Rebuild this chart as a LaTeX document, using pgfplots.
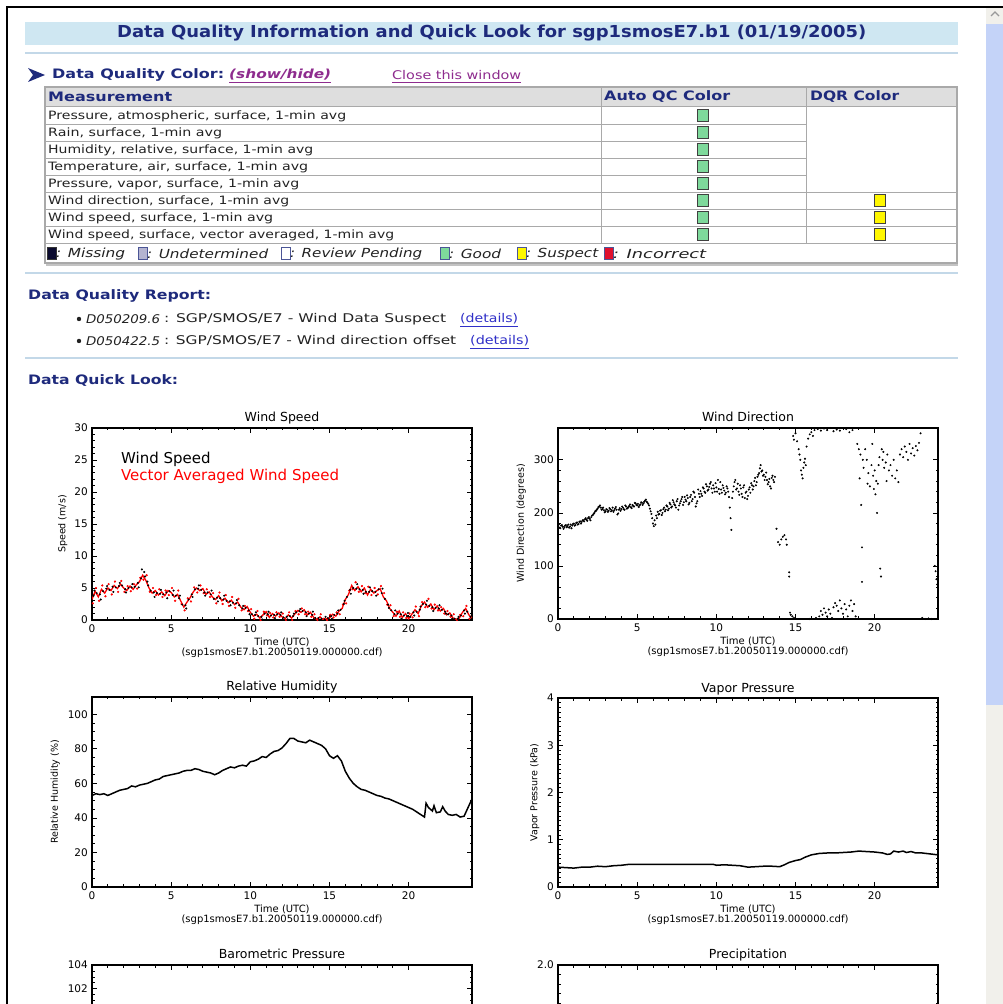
\documentclass[border=0pt]{standalone}
\usepackage{pgfplots}
\pgfplotsset{compat=1.18}
\usepackage{graphicx}
\usepackage{fontspec}
\setmainfont{DejaVu Sans}
\newfontfamily\plotfont{DejaVu Sans}
\definecolor{navy}{HTML}{1E2A7C}
\definecolor{titlebg}{HTML}{CFE7F2}
\definecolor{sepline}{HTML}{C3D8E8}
\definecolor{hdrbg}{HTML}{DEDEDE}
\definecolor{gridc}{HTML}{A9A9A9}
\definecolor{linkpurple}{HTML}{8E2C8E}
\definecolor{linkblue}{HTML}{3030C8}
\definecolor{goodgreen}{HTML}{7ED99B}
\definecolor{suspyellow}{HTML}{FFF700}
\definecolor{undet}{HTML}{B4B4D0}
\definecolor{incred}{HTML}{E0102E}
\definecolor{missblack}{HTML}{0A0A2E}
\definecolor{scrollblue}{HTML}{C4D3F8}
\definecolor{scrollgrey}{HTML}{F1F0EB}
\definecolor{rowtext}{HTML}{222222}
\newcommand{\fs}[1]{\fontsize{#1}{#1}\selectfont}
\newcommand{\txt}[5]{\node[anchor=west,inner sep=0pt,text=#4] at (#1,#2) {\resizebox{#3pt}{\height}{#5}};}
\pgfplotsset{
 idl/.style={
  scale only axis, width=380pt, height=190pt, anchor=south west,
  xmin=0, xmax=24, xtick={0,5,10,15,20}, minor x tick num=4,
  tick align=inside, major tick length=5pt, minor tick length=2.5pt,
  axis line style={line width=1.1pt, black},
  every tick/.append style={black, line width=0.7pt},
  tick label style={font=\plotfont\fs{10.5}},
  /pgf/number format/assume math mode=true,
  xticklabel style={inner sep=0pt, yshift=-5pt},
  yticklabel style={inner sep=0pt, xshift=-4pt},
  title style={font=\plotfont\fs{12.5}, inner sep=0pt, anchor=base, at={(axis description cs:0.5,1)}, yshift=0pt},
  xlabel={Time (UTC)\\(sgp1smosE7.b1.20050119.000000.cdf)},
  xlabel style={font=\plotfont\fs{10}, align=center, inner sep=0pt, at={(axis description cs:0.5,0)}, anchor=north, yshift=-18pt},
  ylabel style={font=\plotfont\fs{9.5}, inner sep=0pt, anchor=center},
 }
}
\begin{document}
\begin{tikzpicture}[x=1pt,y=1pt]
\useasboundingbox (0,0) rectangle (1003,1004);
\clip (0,0) rectangle (1003,1004);
\fill[white] (0,0) rectangle (1003,1004);
\begin{scope}[shift={(0pt,1004pt)},y=-1pt]
% borders and scrollbar
\fill[scrollgrey] (986,8) rectangle (1003,1004);
\fill[scrollblue] (986,24) rectangle (1003,705);
\draw[black!40, line width=1.2pt] (991,16) -- (995,12) -- (999,16);
\draw[black, line width=2pt] (6,7) -- (1003,7);
\draw[black, line width=2pt] (7,7) -- (7,1004);
% title bar
\fill[titlebg] (25,22) rectangle (958,45);
\txt{117}{33.5}{749}{navy}{\fs{16.5}\bfseries Data Quality Information and Quick Look for sgp1smosE7.b1 (01/19/2005)}
\draw[sepline, line width=1.5pt] (25,53) -- (958,53);
% data quality color
\fill[navy] (28,68) -- (45,75) -- (28,82) -- (33,75) -- cycle;
\txt{52}{75}{172}{navy}{\fs{13}\bfseries Data Quality Color:}
\txt{229}{75}{102}{linkpurple}{\fs{12.5}\bfseries\itshape (show/hide)}
\draw[linkpurple, line width=0.8pt] (229,82) -- (331,82);
\txt{392}{75}{129}{linkpurple}{\fs{12}Close this window}
\draw[linkpurple, line width=0.8pt] (392,82) -- (521,82);
% table
\fill[hdrbg] (45,87) rectangle (957,107);
\draw[gridc, line width=1.2pt] (45,87) rectangle (957,263);
\draw[gridc, line width=1pt] (45,107) -- (957,107);
\foreach \yy in {125,142,159,176,193} {\draw[gridc, line width=1pt] (45,\yy) -- (806,\yy);}
\foreach \yy in {210,227,244} {\draw[gridc, line width=1pt] (45,\yy) -- (957,\yy);}
\draw[gridc, line width=1pt] (806,193) -- (957,193);
\draw[gridc, line width=1pt] (601,87) -- (601,244);
\draw[gridc, line width=1pt] (806,87) -- (806,244);
\draw[gridc!70, line width=1.5pt] (46,265) -- (958,265);
\txt{48}{97}{124}{navy}{\fs{13}\bfseries Measurement}
\txt{604}{97}{126}{navy}{\fs{13}\bfseries Auto QC Color}
\txt{810}{97}{89}{navy}{\fs{13}\bfseries DQR Color}
\txt{48}{116.5}{298}{rowtext}{\fs{11.5}Pressure, atmospheric, surface, 1-min avg}
\txt{48}{133.5}{174}{rowtext}{\fs{11.5}Rain, surface, 1-min avg}
\txt{48}{150.5}{265}{rowtext}{\fs{11.5}Humidity, relative, surface, 1-min avg}
\txt{48}{167.5}{260}{rowtext}{\fs{11.5}Temperature, air, surface, 1-min avg}
\txt{48}{184.5}{251}{rowtext}{\fs{11.5}Pressure, vapor, surface, 1-min avg}
\txt{48}{201.5}{241}{rowtext}{\fs{11.5}Wind direction, surface, 1-min avg}
\txt{48}{218.5}{225}{rowtext}{\fs{11.5}Wind speed, surface, 1-min avg}
\txt{48}{235.5}{346}{rowtext}{\fs{11.5}Wind speed, surface, vector averaged, 1-min avg}
\foreach \yy in {110,127,144,161,178,195,212,229} {\draw[black!75, fill=goodgreen, line width=1pt] (697.5,\yy) rectangle (708.5,\yy+12);}
\foreach \yy in {195,212,229} {\draw[black!75, fill=suspyellow, line width=1pt] (874.5,\yy) rectangle (885.5,\yy+12);}
% legend row
\draw[black!80, fill=missblack, line width=1pt] (47.5,248) rectangle (56,260);
\txt{56}{254}{69}{rowtext}{\fs{12.5}\itshape : Missing}
\draw[navy!80, fill=undet, line width=1pt] (138.5,248) rectangle (147,260);
\txt{147}{254}{121}{rowtext}{\fs{12.5}\itshape : Undetermined}
\draw[navy!80, fill=white, line width=1pt] (281.5,248) rectangle (290,260);
\txt{290}{254}{132}{rowtext}{\fs{12.5}\itshape : Review Pending}
\draw[navy!80, fill=goodgreen, line width=1pt] (440.5,248) rectangle (449,260);
\txt{449}{254}{52}{rowtext}{\fs{12.5}\itshape : Good}
\draw[navy!80, fill=suspyellow, line width=1pt] (517.5,248) rectangle (526,260);
\txt{526}{254}{72}{rowtext}{\fs{12.5}\itshape : Suspect}
\draw[navy!80, fill=incred, line width=1pt] (604.5,248) rectangle (613,260);
\txt{613}{254}{93}{rowtext}{\fs{12.5}\itshape : Incorrect}
\draw[sepline, line width=1.5pt] (25,273) -- (958,273);
% report
\txt{28}{296}{183}{navy}{\fs{13}\bfseries Data Quality Report:}
\fill[rowtext] (79,319) circle (2.2);
\fill[rowtext] (79,341) circle (2.2);
\txt{86}{319}{74}{rowtext}{\fs{12}\itshape D050209.6}
\txt{164}{319}{282}{rowtext}{\fs{12}: SGP/SMOS/E7 - Wind Data Suspect}
\txt{460}{319}{58}{linkblue}{\fs{12}(details)}
\draw[linkblue, line width=0.8pt] (460,326) -- (518,326);
\txt{86}{341}{74}{rowtext}{\fs{12}\itshape D050422.5}
\txt{164}{341}{292}{rowtext}{\fs{12}: SGP/SMOS/E7 - Wind direction offset}
\txt{470}{341}{59}{linkblue}{\fs{12}(details)}
\draw[linkblue, line width=0.8pt] (470,348) -- (529,348);
\draw[sepline, line width=1.5pt] (25,358) -- (958,358);
\txt{28}{381}{150}{navy}{\fs{13}\bfseries Data Quick Look:}
\end{scope}

% ---------------- Wind Speed
\begin{axis}[idl, at={(92pt,384pt)}, height=192pt, ymin=0, ymax=30, ytick={0,5,...,30}, minor y tick num=4,
  title={Wind Speed}, ylabel={Speed (m/s)}, ylabel style={at={(axis description cs:-0.077,0.5)}}]
\addplot[red, line width=1.3pt] coordinates {
(0.0,3.2)(0.2,4.5)(0.4,3.6)(0.6,4.8)(0.8,4.2)(1.0,5.0)(1.2,4.6)(1.4,5.4)(1.6,4.9)(1.8,5.6)
(2.0,5.0)(2.2,4.6)(2.4,5.3)(2.6,4.8)(2.8,5.5)(3.0,6.0)(3.2,7.0)(3.4,6.2)(3.6,5.0)(3.8,4.2)
(4.0,4.6)(4.2,3.9)(4.4,4.4)(4.6,3.8)(4.8,4.6)(5.0,4.3)(5.2,3.6)(5.4,4.0)(5.6,3.0)(5.8,2.0)
(6.0,2.8)(6.2,3.5)(6.4,4.4)(6.6,5.0)(6.8,4.6)(7.0,4.9)(7.2,4.0)(7.4,4.4)(7.6,3.6)(7.8,3.2)
(8.0,3.8)(8.2,3.0)(8.4,3.4)(8.6,2.7)(8.8,3.1)(9.0,2.4)(9.2,2.8)(9.4,2.0)(9.6,1.6)(9.8,2.1)
(10.0,1.2)(10.2,0.6)(10.4,0.9)(10.6,0.3)(10.8,0.8)(11.0,1.3)(11.2,0.4)(11.4,1.0)(11.6,0.6)(11.8,1.1)
(12.0,0.5)(12.2,0.2)(12.4,0.8)(12.6,0.3)(12.8,0.9)(13.0,1.5)(13.2,1.2)(13.4,1.6)(13.6,0.8)(13.8,1.2)
(14.0,0.4)(14.2,0.1)(14.4,0.5)(14.6,0.0)(14.8,0.2)(15.0,0.3)(15.2,0.9)(15.4,0.6)(15.6,1.4)(15.8,1.8)
(16.0,3.2)(16.2,4.0)(16.4,5.4)(16.6,4.6)(16.8,5.2)(17.0,4.4)(17.2,5.0)(17.4,3.9)(17.6,4.8)(17.8,4.2)
(18.0,4.6)(18.2,4.9)(18.4,3.6)(18.6,3.0)(18.8,1.8)(19.0,1.2)(19.2,0.6)(19.4,1.4)(19.6,0.4)(19.8,1.0)
(20.0,0.2)(20.2,0.9)(20.4,1.6)(20.6,1.0)(20.8,2.2)(21.0,2.8)(21.2,2.0)(21.4,2.5)(21.6,1.6)(21.8,2.2)
(22.0,1.4)(22.2,1.8)(22.4,0.8)(22.6,1.1)(22.8,0.3)(23.0,0.1)(23.2,0.3)(23.4,1.2)(23.6,1.8)(23.8,0.8)(24.0,0.3)};
\addplot[red, only marks, mark=*, mark size=0.9pt] coordinates {
(0.05,2.6)(0.25,5.0)(0.45,3.0)(0.65,5.4)(0.85,3.7)(1.05,5.6)(1.25,4.0)(1.45,6.0)(1.65,4.4)(1.85,6.1)
(2.05,4.4)(2.25,5.3)(2.45,4.5)(2.65,5.6)(2.85,4.9)(3.05,6.6)(3.25,6.3)(3.45,7.0)(3.65,4.4)(3.85,5.0)
(4.05,3.9)(4.25,4.8)(4.45,3.6)(4.65,4.6)(4.85,3.9)(5.05,5.0)(5.25,3.0)(5.45,4.6)(5.65,2.5)(5.85,1.5)
(6.05,3.4)(6.25,2.9)(6.45,5.1)(6.65,4.3)(6.85,5.4)(7.05,4.2)(7.25,4.8)(7.45,3.6)(7.65,4.2)(7.85,2.6)
(8.05,4.3)(8.25,2.5)(8.45,3.9)(8.65,2.2)(8.85,3.6)(9.05,1.9)(9.25,3.3)(9.45,1.5)(9.65,2.2)(9.85,1.4)
(10.05,1.7)(10.25,0.2)(10.45,1.4)(10.65,0.0)(10.85,1.3)(11.05,0.7)(11.25,1.1)(11.45,0.4)(11.65,1.2)(11.85,0.5)
(12.05,1.0)(12.25,0.0)(12.45,1.2)(12.65,0.0)(12.85,1.4)(13.05,0.9)(13.25,1.8)(13.45,0.9)(13.65,1.3)(13.85,0.5)
(14.05,0.9)(14.25,0.0)(14.45,0.9)(14.65,0.2)(14.85,0.0)(15.05,0.8)(15.25,0.4)(15.45,1.2)(15.65,0.9)(15.85,2.4)
(16.05,2.6)(16.25,4.6)(16.45,4.8)(16.65,5.9)(16.85,4.4)(17.05,5.3)(17.25,4.2)(17.45,5.2)(17.65,3.9)(17.85,5.0)
(18.05,4.0)(18.25,5.3)(18.45,4.2)(18.65,2.4)(18.85,2.3)(19.05,0.6)(19.25,1.3)(19.45,0.5)(19.65,1.2)(19.85,0.3)
(20.05,1.0)(20.25,0.4)(20.45,2.1)(20.65,0.6)(20.85,2.8)(21.05,2.0)(21.25,3.3)(21.45,1.8)(21.65,2.4)(21.85,1.5)
(22.05,2.0)(22.25,1.0)(22.45,1.4)(22.65,0.5)(22.85,0.9)(23.05,0.0)(23.25,0.8)(23.45,0.6)(23.65,2.2)(23.85,0.2)};
\addplot[black, only marks, mark=*, mark size=0.8pt] coordinates {
(0.1,3.8)(0.3,4.2)(0.5,4.0)(0.7,4.5)(0.9,4.9)(1.1,4.7)(1.3,5.2)(1.5,5.1)(1.7,5.3)(1.9,5.4)
(2.1,4.8)(2.3,5.0)(2.5,5.1)(2.7,5.2)(2.9,5.8)(3.1,6.5)(3.3,7.5)(3.5,6.0)(3.7,4.6)(3.9,4.3)
(4.1,4.2)(4.3,4.1)(4.5,4.0)(4.7,4.3)(4.9,4.5)(5.1,3.9)(5.3,3.8)(5.5,3.4)(5.7,2.4)(5.9,2.3)
(6.1,3.2)(6.3,4.0)(6.5,4.8)(6.7,4.9)(6.9,4.7)(7.1,4.3)(7.3,4.3)(7.5,4.0)(7.7,3.3)(7.9,3.5)
(8.1,3.4)(8.3,3.2)(8.5,3.0)(8.7,2.9)(8.9,2.7)(9.1,2.6)(9.3,2.3)(9.5,1.8)(9.7,1.9)(9.9,1.5)
(10.1,0.9)(10.3,0.8)(10.5,0.6)(10.7,0.5)(10.9,1.0)(11.1,0.9)(11.3,0.7)(11.5,0.8)(11.7,0.9)(11.9,0.8)
(12.1,0.4)(12.3,0.5)(12.5,0.6)(12.7,0.6)(12.9,1.2)(13.1,1.4)(13.3,1.4)(13.5,1.2)(13.7,1.0)(13.9,0.8)
(14.1,0.3)(14.3,0.3)(14.5,0.2)(14.7,0.1)(14.9,0.3)(15.1,0.6)(15.3,0.8)(15.5,1.0)(15.7,1.6)(15.9,2.5)
(16.1,3.6)(16.3,4.7)(16.5,5.0)(16.7,4.9)(16.9,4.8)(17.1,4.7)(17.3,4.4)(17.5,4.4)(17.7,4.5)(17.9,4.4)
(18.1,4.8)(18.3,4.2)(18.5,3.3)(18.7,2.4)(18.9,1.5)(19.1,0.9)(19.3,1.0)(19.5,0.9)(19.7,0.7)(19.9,0.6)
(20.1,0.5)(20.3,1.2)(20.5,1.3)(20.7,1.6)(20.9,2.5)(21.1,2.4)(21.3,2.2)(21.5,2.0)(21.7,1.9)(21.9,1.8)
(22.1,1.6)(22.3,1.3)(22.5,0.9)(22.7,0.7)(22.9,0.2)(23.1,0.2)(23.3,0.7)(23.5,1.5)(23.7,1.3)(23.9,0.5)
(0.15,4.6)(0.55,3.2)(0.95,5.3)(1.35,4.4)(1.75,5.8)(2.15,4.3)(2.55,5.6)(2.95,5.1)(3.15,7.9)(3.35,6.8)
(3.55,5.4)(3.95,3.6)(4.35,4.7)(4.75,3.4)(5.15,4.6)(5.55,3.8)(5.95,1.8)(6.35,3.6)(6.75,5.4)(7.15,3.8)
(7.55,4.6)(7.95,2.9)(8.35,3.8)(8.75,2.3)(9.15,3.1)(9.55,2.2)(9.95,0.9)(10.35,1.2)(10.75,0.1)(11.15,1.3)
(11.55,0.3)(11.95,1.2)(12.35,0.1)(12.75,1.0)(13.15,1.7)(13.55,0.6)(13.95,1.3)(14.35,0.0)(14.75,0.5)(15.15,0.2)
(15.55,1.5)(15.95,3.0)(16.35,4.1)(16.75,5.6)(17.15,4.1)(17.55,5.1)(17.95,3.8)(18.35,4.9)(18.75,1.9)(19.15,1.5)
(19.55,0.2)(19.95,1.1)(20.35,0.7)(20.75,2.1)(21.15,3.0)(21.55,1.4)(21.95,2.3)(22.35,1.0)(22.75,0.2)(23.15,0.5)
(23.55,1.0)(23.95,0.1)};
\node[anchor=west, inner sep=0pt, font=\plotfont\fs{15}] at (axis description cs:0.076,0.839) {Wind Speed};
\node[anchor=west, inner sep=0pt, font=\plotfont\fs{15}, text=red] at (axis description cs:0.076,0.75) {Vector Averaged Wind Speed};
\end{axis}

% ---------------- Wind Direction
\begin{axis}[idl, at={(558pt,385pt)}, height=191pt, ymin=0, ymax=360, ytick={0,100,200,300}, minor y tick num=4,
  title={Wind Direction}, ylabel={Wind Direction (degrees)}, ylabel style={at={(axis description cs:-0.097,0.5)}}]
\addplot[black, only marks, mark=*, mark size=0.8pt] coordinates {
(0.0,175)(0.1,172)(0.2,176)(0.3,174)(0.4,173)(0.5,177)(0.6,175)(0.7,172)(0.8,178)(0.9,176)
(1.0,180)(1.1,177)(1.2,182)(1.3,179)(1.4,184)(1.5,183)(1.6,186)(1.7,188)(1.8,187)(1.9,190)
(2.0,189)(2.1,192)(2.2,196)(2.3,200)(2.4,204)(2.5,208)(2.6,212)(2.7,210)(2.8,207)(2.9,205)
(3.0,203)(3.1,206)(3.2,204)(3.3,207)(3.4,205)(3.5,202)(3.6,208)(3.7,206)(3.8,199)(3.9,209)
(4.0,207)(4.1,210)(4.2,206)(4.3,212)(4.4,209)(4.5,213)(4.6,211)(4.7,215)(4.8,212)(4.9,218)
(5.0,214)(5.1,211)(5.2,216)(5.3,219)(5.4,218)(5.5,223)(5.6,221)(5.7,217)(5.8,208)(5.9,198)
(6.0,180)(6.05,175)(6.1,186)(6.2,195)(6.3,202)(6.4,198)(6.5,205)(6.6,200)(6.7,210)(6.8,206)
(6.9,212)(7.0,208)(7.1,216)(7.2,212)(7.3,220)(7.4,214)(7.5,222)(7.6,206)(7.7,218)(7.8,226)
(7.9,215)(8.0,230)(8.1,222)(8.2,228)(8.3,219)(8.4,234)(8.5,226)(8.6,238)(8.7,212)(8.8,222)
(8.9,236)(9.0,241)(9.1,232)(9.2,246)(9.3,238)(9.4,250)(9.5,244)(9.6,255)(9.7,246)(9.8,252)
(9.9,240)(10.0,248)(10.1,262)(10.2,236)(10.3,244)(10.4,252)(10.5,242)(10.6,238)(10.7,246)(10.8,230)
(10.85,210)(10.9,190)(10.95,168)(11.0,228)(11.1,250)(11.2,262)(11.3,246)(11.4,240)(11.5,252)(11.6,236)
(11.7,248)(11.8,228)(11.9,240)(12.0,232)(12.1,248)(12.2,256)(12.3,244)(12.4,260)(12.5,252)(12.6,268)
(12.7,275)(12.8,290)(12.9,280)(13.0,272)(13.1,268)(13.2,262)(13.3,258)(13.4,250)(13.5,266)(13.6,262)(13.7,268)
(0.05,178)(0.15,171)(0.25,177)(0.35,170)(0.45,176)(0.55,173)(0.65,178)(0.75,174)(0.85,171)(0.95,179)
(1.05,176)(1.15,181)(1.25,178)(1.35,183)(1.45,180)(1.55,186)(1.65,184)(1.75,190)(1.85,185)(1.95,192)
(2.05,186)(2.15,195)(2.25,198)(2.35,203)(2.45,206)(2.55,211)(2.65,214)(2.75,206)(2.85,210)(2.95,201)
(3.05,207)(3.15,202)(3.25,209)(3.35,203)(3.45,210)(3.55,205)(3.65,211)(3.75,197)(3.85,206)(3.95,204)
(4.05,212)(4.15,207)(4.25,214)(4.35,208)(4.45,211)(4.55,216)(4.65,209)(4.75,213)(4.85,219)(4.95,215)
(5.05,217)(5.15,214)(5.25,220)(5.35,215)(5.45,221)(5.55,225)(5.65,219)(5.75,214)(5.85,203)(5.95,190)
(6.15,178)(6.25,190)(6.35,197)(6.45,204)(6.55,196)(6.65,207)(6.75,203)(6.85,214)(6.95,205)(7.05,219)
(7.15,210)(7.25,224)(7.35,216)(7.45,210)(7.55,226)(7.65,214)(7.75,222)(7.85,230)(7.95,220)(8.05,225)
(8.15,233)(8.25,216)(8.35,230)(8.45,222)(8.55,240)(8.65,230)(8.75,218)(8.85,244)(8.95,230)(9.05,236)
(9.15,248)(9.25,240)(9.35,254)(9.45,242)(9.55,249)(9.65,258)(9.75,238)(9.85,246)(9.95,256)(10.05,240)
(10.15,245)(10.25,258)(10.35,238)(10.45,247)(10.55,235)(10.65,250)(10.75,240)(11.05,240)(11.15,258)(11.25,244)
(11.35,255)(11.45,234)(11.55,246)(11.65,230)(11.75,252)(11.85,238)(11.95,226)(12.05,244)(12.15,238)(12.25,252)
(12.35,250)(12.45,266)(12.55,258)(12.65,272)(12.75,284)(12.85,278)(12.95,270)(13.05,262)(13.15,276)(13.25,254)
(13.35,264)(13.45,246)(13.55,270)(13.65,258)
(13.8,170)(13.9,145)(14.0,140)(14.1,150)(14.2,155)(14.3,158)(14.4,150)(14.45,140)(14.6,88)(14.6,80)
(14.65,12)(14.7,8)(14.8,5)(14.9,2)(14.85,345)(14.9,338)(15.0,350)(15.1,335)(15.2,320)(15.25,310)
(15.3,300)(15.35,280)(15.4,272)(15.45,265)(15.5,285)(15.55,295)(15.6,302)(15.65,290)(15.7,325)(15.8,340)
(15.9,348)(16.0,352)(16.1,345)(16.2,356)(16.4,358)(16.6,355)(16.8,359)(17.0,356)(17.2,360)(17.4,354)
(17.6,357)(17.8,355)(18.2,358)(18.4,352)(18.6,356)
(15.9,0)(16.3,2)(16.5,5)(16.6,15)(16.7,8)(16.8,20)(16.9,12)(17.0,5)(17.1,18)(17.2,10)
(17.3,2)(17.4,22)(17.5,30)(17.6,25)(17.7,15)(17.8,35)(17.9,20)(18.0,10)(18.1,28)(18.2,18)
(18.3,5)(18.4,25)(18.5,35)(18.6,15)(18.7,28)(18.8,5)
(18.9,330)(19.0,320)(19.05,265)(19.1,310)(19.15,215)(19.2,135)(19.2,70)(19.25,300)(19.3,285)(19.4,320)
(19.5,300)(19.55,255)(19.6,275)(19.7,250)(19.8,290)(19.85,330)(19.9,270)(19.95,245)(20.0,280)(20.05,235)
(20.1,260)(20.15,200)(20.2,255)(20.25,290)(20.3,305)(20.35,95)(20.4,80)(20.45,320)(20.5,300)(20.55,315)
(20.6,285)(20.7,295)(20.75,260)(20.8,310)(20.9,280)(21.0,290)(21.1,270)(21.2,300)(21.3,265)(21.4,280)
(21.5,258)(21.6,310)(21.7,320)(21.8,305)(21.9,325)(22.0,315)(22.1,300)(22.2,330)(22.3,312)(22.4,322)
(22.5,308)(22.6,326)(22.7,318)(22.8,332)(22.9,350)
(23.0,2)(23.2,0)(23.4,1)(23.6,0)(23.8,100)(23.85,90)(23.9,75)(23.95,65)(24.0,80)};
\end{axis}

% ---------------- Relative Humidity
\begin{axis}[idl, at={(92pt,117pt)}, height=190pt, ymin=0, ymax=110, ytick={0,20,...,100}, minor y tick num=3,
  title={Relative Humidity}, ylabel={Relative Humidity (\%)}, ylabel style={at={(axis description cs:-0.097,0.5)}}]
\addplot[black, line width=1.5pt] coordinates {
(0,53)(0.25,54)(0.5,53.5)(0.75,54)(1.0,53)(1.25,54)(1.5,55)(1.75,56)(2.0,56.5)(2.25,57)
(2.5,58.5)(2.75,58)(3.0,59)(3.25,59.5)(3.5,60)(3.75,61)(4.0,62)(4.25,62.5)(4.5,64)(4.75,64.5)
(5.0,65)(5.25,65.5)(5.5,66)(5.75,67)(6.0,67.5)(6.25,67.5)(6.5,68.5)(6.75,68)(7.0,67)(7.25,66.5)
(7.5,66)(7.75,65)(8.0,66)(8.25,67.5)(8.5,68.5)(8.75,69.5)(9.0,69)(9.25,70)(9.5,70.5)(9.75,70)
(10.0,72.5)(10.25,73)(10.5,74)(10.75,75.5)(11.0,75)(11.25,77)(11.5,78.5)(11.75,79)(12.0,80.5)(12.25,83)
(12.5,86)(12.75,86)(13.0,84.5)(13.25,84)(13.5,83.5)(13.75,85)(14.0,84)(14.25,83)(14.5,82)(14.75,80)
(15.0,76)(15.25,74.5)(15.5,76)(15.75,73)(16.0,67)(16.25,63)(16.5,60)(16.75,58)(17.0,56.5)(17.25,56)
(17.5,55)(17.75,54)(18.0,53)(18.25,52.5)(18.5,51.5)(18.75,51)(19.0,50)(19.25,49)(19.5,48)(19.75,47)
(20.0,46)(20.25,45)(20.5,43.5)(20.75,42)(21.0,40.5)(21.1,48.5)(21.25,46)(21.5,44)(21.6,47)(21.75,43)
(22.0,43.5)(22.15,46.5)(22.3,44)(22.5,42)(22.75,41.5)(23.0,42)(23.25,40.5)(23.5,41)(23.75,46)(24.0,51)};
\end{axis}

% ---------------- Vapor Pressure
\begin{axis}[idl, at={(558pt,117pt)}, height=189pt, ymin=0, ymax=4, ytick={0,1,2,3,4}, minor y tick num=9,
  title={Vapor Pressure}, ylabel={Vapor Pressure (kPa)}, ylabel style={at={(axis description cs:-0.061,0.5)}}]
\addplot[black, line width=1.5pt] coordinates {
(0,0.42)(0.5,0.41)(1,0.40)(1.5,0.42)(2,0.42)(2.5,0.44)(3,0.43)(3.5,0.45)(4,0.46)(4.5,0.48)
(5,0.48)(6,0.48)(7,0.48)(8,0.48)(9,0.48)(9.8,0.48)(10,0.46)(10.5,0.47)(11,0.46)(11.5,0.45)
(12,0.42)(12.5,0.43)(13,0.44)(13.5,0.44)(14,0.43)(14.3,0.47)(14.6,0.52)(15,0.56)(15.3,0.58)(15.6,0.63)
(16,0.68)(16.5,0.71)(17,0.72)(17.5,0.72)(18,0.73)(18.5,0.74)(19,0.76)(19.5,0.75)(20,0.74)(20.5,0.72)
(20.8,0.69)(21,0.70)(21.2,0.76)(21.5,0.74)(21.8,0.76)(22,0.73)(22.3,0.75)(22.6,0.72)(23,0.72)(23.5,0.70)(24,0.68)};
\end{axis}

% ---------------- Barometric Pressure (cut off by the page edge)
\begin{axis}[idl, at={(92pt,-151pt)}, height=190pt, ymin=88, ymax=104, ytick={88,90,...,104}, minor y tick num=3,
  yticklabels={,,,,,,,102,104}, xticklabels={}, xlabel={},
  title={Barometric Pressure}, ylabel={}]
\addplot[draw=none] coordinates {(0,88)(24,104)};
\end{axis}

% ---------------- Precipitation (cut off by the page edge)
\begin{axis}[idl, at={(558pt,-151pt)}, height=190pt, ymin=0, ymax=2, ytick={0,0.5,1,1.5,2}, minor y tick num=4,
  yticklabels={,,,,2.0}, xticklabels={}, xlabel={},
  title={Precipitation}, ylabel={}]
\addplot[draw=none] coordinates {(0,0)(24,2)};
\end{axis}
\end{tikzpicture}
\end{document}
